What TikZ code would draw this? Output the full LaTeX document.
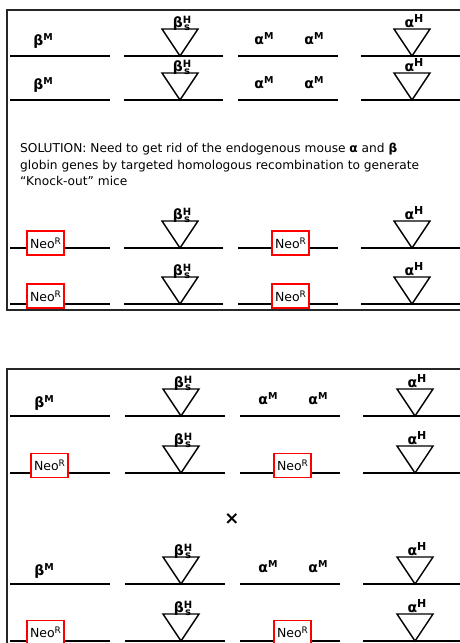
\documentclass[tikz,border=0pt]{standalone}
\usepackage{fontspec}
\setmainfont{DejaVu Sans}
\begin{document}
\begin{tikzpicture}[x=1pt,y=-1pt,
  chrom/.style={line width=2.4pt,black},
  frame/.style={line width=1.8pt,black!85},
  tri/.style={line width=1.4pt,black},
  neobox/.style={draw=red,line width=1.8pt,fill=white,minimum width=37pt,minimum height=24pt,inner sep=0pt,font=\fontsize{12.5}{12.5}\selectfont},
  lbl/.style={inner sep=0pt,font=\fontsize{14}{14}\selectfont\bfseries},
  txt/.style={inner sep=0pt,anchor=base west,font=\fontsize{12.2}{13}\selectfont}]
\useasboundingbox (0,0) rectangle (460,643);
\newcommand{\bsH}{β\raisebox{-0.5ex}{\fontsize{10}{8}\selectfont\shortstack{H\\[-1.5pt]s}}}
\newcommand{\aH}{α\raisebox{0.55ex}{\fontsize{11}{11}\selectfont H}}
\newcommand{\sM}[1]{#1\raisebox{0.55ex}{\fontsize{9.5}{9.5}\selectfont M}}
\newcommand{\neoR}{Neo\raisebox{0.6ex}{\fontsize{9}{9}\selectfont R}}
% frames
\draw[frame] (460,10) -- (7,10) -- (7,310) -- (460,310);
\draw[frame] (460,369) -- (7,369) -- (7,643);
% top panel rows
\foreach \y/\n in {56/a,100/b,248/c,304/d}{
  \draw[chrom] (10,\y) -- (110,\y);
  \draw[chrom] (124,\y) -- (223,\y);
  \draw[chrom] (238,\y) -- (338,\y);
  \draw[chrom] (361,\y) -- (460,\y);
  \draw[tri] (162,\y-27) -- (198,\y-27) -- (180,\y) -- cycle;
  \draw[tri] (394,\y-27) -- (430,\y-27) -- (412,\y) -- cycle;
  \node[lbl,anchor=base] (bh\n) at (182,\y-29) {\bsH};
  \node[lbl,anchor=base] (ah\n) at (414,\y-29) {\aH};
}
\foreach \y/\n in {56/a,100/b}{
  \node[lbl,anchor=base] (bm\n) at (43,\y-11) {\sM{β}};
  \node[lbl,anchor=base] (am\n) at (264,\y-12) {\sM{α}};
  \node[lbl,anchor=base] (amm\n) at (314,\y-12) {\sM{α}};
}
\node[neobox] (n1) at (45.5,243) {\neoR};
\node[neobox] (n2) at (290.5,243) {\neoR};
\node[neobox] (n3) at (45.5,296) {\neoR};
\node[neobox] (n4) at (290.5,296) {\neoR};
% solution text
\node[txt] (t1) at (20,152) {SOLUTION: Need to get rid of the endogenous mouse \textbf{α} and \textbf{β}};
\node[txt] (t2) at (20,169) {globin genes by targeted homologous recombination to generate};
\node[txt] (t3) at (20,185) {“Knock-out” mice};
% bottom panel
\foreach \y/\n in {416/e,473/f,584/g,641/h}{
  \draw[chrom] (10,\y) -- (110,\y);
  \draw[chrom] (125,\y) -- (225,\y);
  \draw[chrom] (240,\y) -- (340,\y);
  \draw[chrom] (363,\y) -- (460,\y);
  \draw[tri] (163,\y-27) -- (199,\y-27) -- (181,\y) -- cycle;
  \draw[tri] (397,\y-27) -- (433,\y-27) -- (415,\y) -- cycle;
  \node[lbl,anchor=base] (bh\n) at (183,\y-29) {\bsH};
  \node[lbl,anchor=base] (ah\n) at (417,\y-29) {\aH};
}
\foreach \y/\n in {416/e,584/g}{
  \node[lbl,anchor=base] (bm\n) at (44,\y-9) {\sM{β}};
  \node[lbl,anchor=base] (am\n) at (268,\y-12) {\sM{α}};
  \node[lbl,anchor=base] (amm\n) at (318,\y-12) {\sM{α}};
}
\node[neobox] (n5) at (49.5,465.5) {\neoR};
\node[neobox] (n6) at (292.5,465.5) {\neoR};
\node[neobox] (n7) at (45.5,632.5) {\neoR};
\node[neobox] (n8) at (292.5,632.5) {\neoR};
\node[lbl,font=\fontsize{18}{18}\selectfont\bfseries] (x) at (232,519) {×};
\end{tikzpicture}
\end{document}
